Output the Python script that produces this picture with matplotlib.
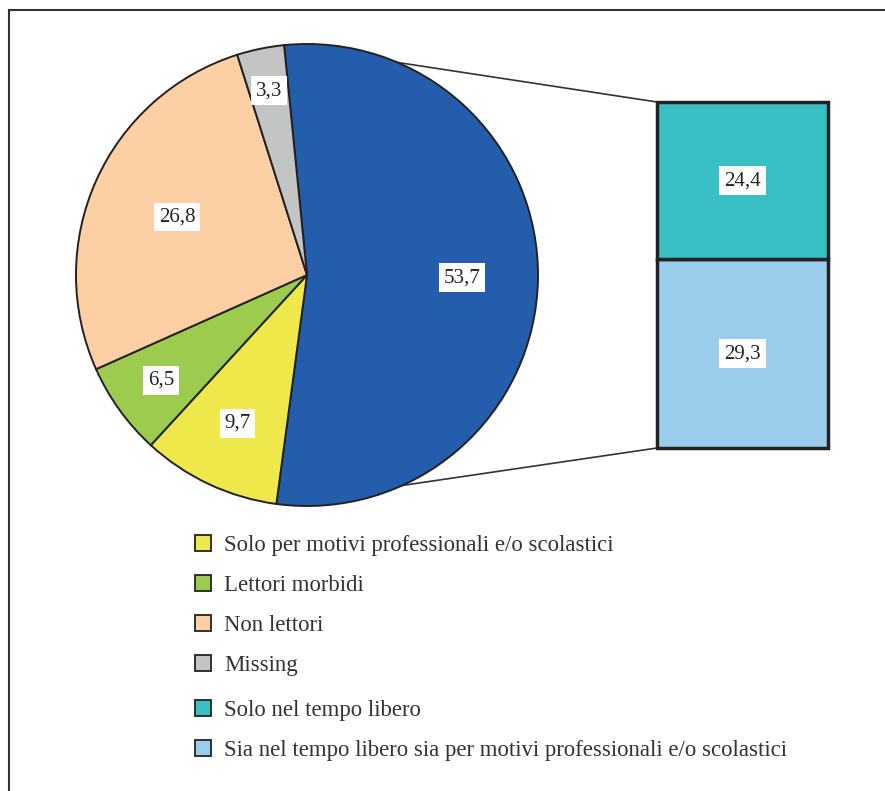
import numpy as np
import matplotlib
matplotlib.use("Agg")
import matplotlib.pyplot as plt
from matplotlib.patches import Patch, ConnectionPatch
from matplotlib.lines import Line2D

plt.rcParams['font.family'] = ['Liberation Serif', 'DejaVu Serif']

# quote principali (torta)
pie_labels = ["Lettori", "Solo per motivi professionali e/o scolastici",
              "Lettori morbidi", "Non lettori", "Missing"]
pie_values = [53.7, 9.7, 6.5, 26.8, 3.3]
pie_colors = ["#235dac", "#eee84a", "#9dcb4e", "#fccfa5", "#c3c4c4"]

# dettaglio dei lettori (barra)
bar_labels = ["Sia nel tempo libero sia per motivi professionali e/o scolastici",
              "Solo nel tempo libero"]
bar_values = [29.3, 24.4]
bar_colors = ["#9acdec", "#38c0c5"]

# distanza radiale delle etichette nella torta
label_r = [0.67, 0.71, 0.78, 0.615, 0.815]

W, H = 885, 791
fig = plt.figure(figsize=(W / 100, H / 100), dpi=100)

def px_axes(x0, y0, x1, y1):
    return fig.add_axes([x0 / W, 1 - y1 / H, (x1 - x0) / W, (y1 - y0) / H])

def fmt(v):
    return f"{v:.1f}".replace(".", ",")

box = dict(facecolor="white", edgecolor="none", pad=3.5)
edge = "#222222"

# torta
ax = px_axes(76, 44, 538, 506)
wedges, _ = ax.pie(pie_values, colors=pie_colors, startangle=95.7, counterclock=False,
                   wedgeprops=dict(edgecolor=edge, linewidth=1.4))
ax.set_xlim(-1, 1)
ax.set_ylim(-1, 1)
ax.axis("off")
for w, v, r in zip(wedges, pie_values, label_r):
    mid = np.deg2rad((w.theta1 + w.theta2) / 2)
    ax.text(r * np.cos(mid), r * np.sin(mid), fmt(v), ha="center", va="center",
            fontsize=15, color="#222222", bbox=box, zorder=5)

# barra impilata
bx = px_axes(657, 102, 828, 448)
bottom = 0
for v, c in zip(bar_values, bar_colors):
    bx.bar(0, v, bottom=bottom, width=1, color=c, edgecolor=edge, linewidth=2.5,
           clip_on=False)
    bx.text(0, bottom + v / 2, fmt(v), ha="center", va="center",
            fontsize=15, color="#222222", bbox=box)
    bottom += v
bx.set_xlim(-0.5, 0.5)
bx.set_ylim(0, bottom)
bx.axis("off")

# linee di collegamento, dietro la torta
lw = wedges[0]
for ang, yb in [(lw.theta2, bottom), (lw.theta1, 0)]:
    a = np.deg2rad(ang)
    con = ConnectionPatch(xyA=(np.cos(a), np.sin(a)), coordsA=ax.transData,
                          xyB=(-0.5, yb), coordsB=bx.transData,
                          color="#333333", linewidth=1.2, zorder=0, clip_on=False)
    ax.add_artist(con)

# legenda
def sq(c):
    return Patch(facecolor=c, edgecolor=edge, linewidth=1.3)

leg_kw = dict(loc="upper left", frameon=False, fontsize=16.4, handlelength=0.72,
              handleheight=0.72, handletextpad=0.57, labelspacing=0.83,
              borderpad=0, borderaxespad=0)
leg1 = fig.legend([sq(c) for c in pie_colors[1:]], pie_labels[1:],
                  bbox_to_anchor=(195 / W, 1 - 535 / H), **leg_kw)
leg2 = fig.legend([sq(c) for c in bar_colors[::-1]], bar_labels[::-1],
                  bbox_to_anchor=(195 / W, 1 - 700 / H), **leg_kw)
for lg in (leg1, leg2):
    for t in lg.get_texts():
        t.set_color("#333333")

# cornice
fig.add_artist(Line2D([9 / W, 9 / W], [0, 1 - 10 / H], color="#333333", linewidth=1.5))
fig.add_artist(Line2D([9 / W, 1], [1 - 10 / H, 1 - 10 / H], color="#333333", linewidth=1.5))

fig.savefig("out.png", dpi=100)
